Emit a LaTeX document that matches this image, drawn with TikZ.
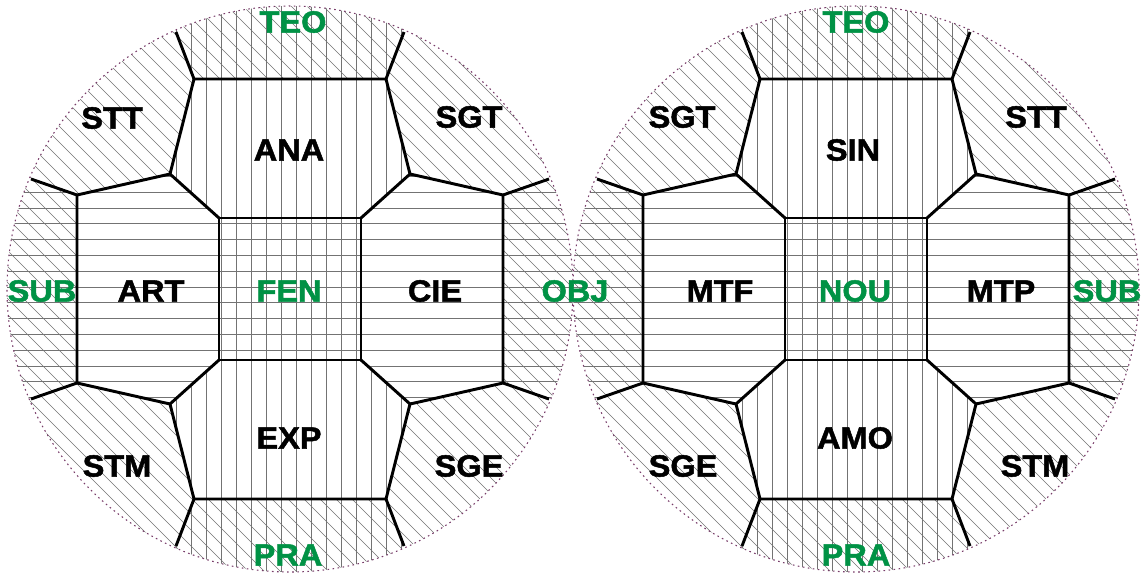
\documentclass[tikz,border=0pt]{standalone}
\usepackage{fontspec}
\usepackage{tikz}
\usepackage{xcolor}
\newfontfamily\lblfont{Liberation Sans}[FakeStretch=1.06,FakeBold=1.6]
\definecolor{lblgreen}{RGB}{0,146,69}
\definecolor{rimcol}{RGB}{120,60,105}

\tikzset{
  wall/.style={line width=2.2pt},
  hatch/.style={color=black!55, line width=0.5pt},
  rim/.style={color=rimcol, line width=0.8pt, dash pattern={on 1.2pt off 2.6pt}},
  sector/.style={font=\lblfont\bfseries\fontsize{23}{23}\selectfont, inner sep=0pt},
  pole/.style={sector, text=lblgreen},
}

% one hatched wheel, centred at (#1,#2)
\newcommand{\wheel}[2]{%
  \begin{scope}[shift={(#1,#2)}]
    % diagonal hatch of the outer ring
    \begin{scope}
      \clip (0,0) circle (283);
      \foreach \d in {-880,-864,...,290}
        \draw[hatch] (\d,-300) -- ++(600,600);
    \end{scope}
    \fill[white] (-96,-210) -- (96,-210) -- (120,-115) -- (213,-94) -- (213,94) -- (120,115) -- (96,210) -- (-96,210) -- (-120,115) -- (-213,94) -- (-213,-94) -- (-120,-115) -- cycle;
    % vertical band
    \begin{scope}
      \clip (0,0) circle (283);
      \clip (-138,-320) -- (-96,-210) -- (-120,-115) -- (-71,-71) -- (-71,71) -- (-120,115) -- (-96,210) -- (-138,320) -- (138,320) -- (96,210) -- (120,115) -- (71,71) -- (71,-71) -- (120,-115) -- (96,-210) -- (138,-320) -- cycle;
      \foreach \k in {-10,...,9}
        \draw[hatch] ({6.7+15*\k},-300) -- ({6.7+15*\k},300);
    \end{scope}
    % horizontal band
    \begin{scope}
      \clip (0,0) circle (283);
      \clip (-320,-131) -- (-213,-94) -- (-120,-115) -- (-71,-71) -- (71,-71) -- (120,-115) -- (213,-94) -- (320,-131) -- (320,131) -- (213,94) -- (120,115) -- (71,71) -- (-71,71) -- (-120,115) -- (-213,94) -- (-320,131) -- cycle;
      \foreach \k in {-9,...,9}
        \draw[hatch] (-300,{-2+15.8*\k}) -- (300,{-2+15.8*\k});
    \end{scope}
    % thick cell walls
    \draw[wall] (-71,-71) rectangle (71,71);
    \draw[wall] (-71,-71) -- (-120,-115) -- (-96,-210) -- (96,-210) -- (120,-115) -- (71,-71);
    \draw[wall] (-71,71) -- (-120,115) -- (-96,210) -- (96,210) -- (120,115) -- (71,71);
    \draw[wall] (-120,-115) -- (-213,-94) -- (-213,94) -- (-120,115);
    \draw[wall] (120,-115) -- (213,-94) -- (213,94) -- (120,115);
    \foreach \sx in {-1,1}
      \foreach \sy in {-1,1} {
        \draw[wall] ({\sx*96},{\sy*210}) -- ({\sx*114},{\sy*257});
        \draw[wall] ({\sx*213},{\sy*94}) -- ({\sx*259},{\sy*110});
      }
    \draw[rim] (0,0) circle (283);
  \end{scope}}

\begin{document}
\begin{tikzpicture}[x=0.75pt,y=0.75pt,yscale=-1,xscale=1]
	\useasboundingbox (0,0) rectangle (1144,572);

	%Wheels
	\wheel{290}{289}
	\wheel{856}{289}

	% Left wheel labels
	\node[pole]   (teoL) at (293,22)  {TEO};
	\node[sector] (sttL) at (112,118) {STT};
	\node[sector] (ana)  at (289,150) {ANA};
	\node[sector] (sgtL) at (469,117) {SGT};
	\node[pole]   (subL) at (42,291)  {SUB};
	\node[sector] (art)  at (151,291) {ART};
	\node[pole]   (fen)  at (289,291) {FEN};
	\node[sector] (cie)  at (435,291) {CIE};
	\node[pole]   (obj)  at (575,291) {OBJ};
	\node[sector] (stmL) at (117,466) {STM};
	\node[sector] (exp)  at (289,438) {EXP};
	\node[sector] (sgeL) at (469,466) {SGE};
	\node[pole]   (praL) at (288,555) {PRA};

	% Right wheel labels
	\node[pole]   (teoR) at (856,22)  {TEO};
	\node[sector] (sgtR) at (682,117) {SGT};
	\node[sector] (sin)  at (853,150) {SIN};
	\node[sector] (sttR) at (1036,117) {STT};
	\node[sector] (mtf)  at (720,291) {MTF};
	\node[pole]   (nou)  at (855,291) {NOU};
	\node[sector] (mtp)  at (1001,291) {MTP};
	\node[pole]   (subR) at (1107,291) {SUB};
	\node[sector] (sgeR) at (683,466) {SGE};
	\node[sector] (amo)  at (855,438) {AMO};
	\node[sector] (stmR) at (1035,466) {STM};
	\node[pole]   (praR) at (856,555) {PRA};

\end{tikzpicture}
\end{document}
